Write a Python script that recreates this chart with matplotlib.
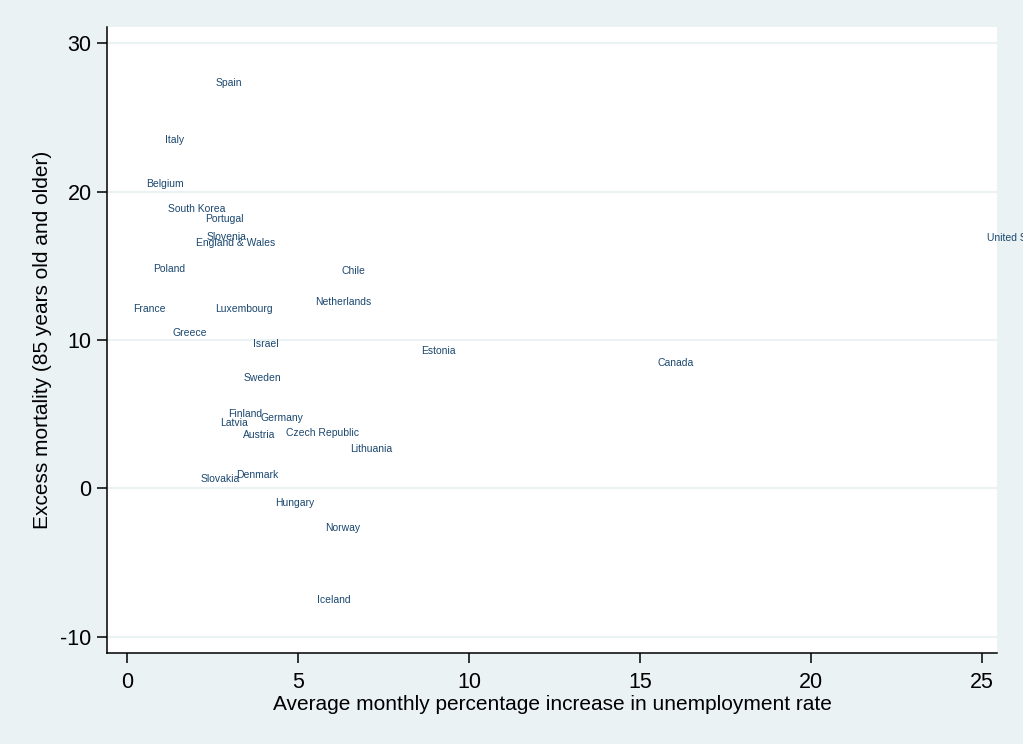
import matplotlib.pyplot as plt

plt.rcParams['axes.unicode_minus'] = False

# Country labels and their positions
countries = ['Spain', 'Italy', 'Belgium', 'South Korea', 'Portugal', 'Slovenia',
             'England & Wales', 'Poland', 'Chile', 'France', 'Luxembourg',
             'Netherlands', 'Greece', 'Israel', 'Estonia', 'Canada', 'Sweden',
             'Finland', 'Germany', 'Latvia', 'Austria', 'Czech Republic',
             'Lithuania', 'Slovakia', 'Denmark', 'Hungary', 'Norway', 'Iceland',
             'United States']
unemp = [2.98, 1.40, 1.11, 2.05, 2.84, 2.92, 3.19, 1.23, 6.63, 0.67, 3.42,
         6.32, 1.84, 4.06, 9.12, 16.05, 3.95, 3.45, 4.53, 3.14, 3.86, 5.73,
         7.13, 2.72, 3.80, 4.91, 6.32, 6.06, 26.05]
excess = [27.34, 23.50, 20.50, 18.79, 18.18, 16.97, 16.50, 14.75, 14.68, 12.12,
          12.12, 12.53, 10.44, 9.70, 9.25, 8.42, 7.47, 5.00, 4.78, 4.44, 3.57,
          3.77, 2.69, 0.67, 0.94, -1.01, -2.69, -7.54, 16.90]

xticks = [0, 5, 10, 15, 20, 25]
yticks = [-10, 0, 10, 20, 30]

bg = '#eaf2f3'
navy = '#1a476f'

fig = plt.figure(figsize=(10.23, 7.44), dpi=100, facecolor=bg)
ax = fig.add_axes([107 / 1023, 1 - 653 / 744, 890 / 1023, 626 / 744])
ax.set_facecolor('white')

for name, x, y in zip(countries, unemp, excess):
    ax.text(x, y, name, ha='center', va='center', fontsize=7.5,
            color=navy, family='Liberation Sans')

ax.set_xlim(-0.58, 25.44)
ax.set_ylim(-11.08, 31.08)
ax.set_xticks(xticks)
ax.set_yticks(yticks)
ax.yaxis.grid(True, color=bg, linewidth=1.5)
ax.set_axisbelow(True)

for side in ['top', 'right']:
    ax.spines[side].set_visible(False)
for side in ['left', 'bottom']:
    ax.spines[side].set_linewidth(1.1)
ax.tick_params(length=7, width=1.1, labelsize=15.5)
ax.tick_params(axis='x', pad=7)
ax.tick_params(axis='y', pad=4)
for lbl in ax.get_xticklabels() + ax.get_yticklabels():
    lbl.set_family('Liberation Sans')

ax.set_xlabel('Average monthly percentage increase in unemployment rate',
              fontsize=15, family='Liberation Sans', labelpad=1)
ax.set_ylabel('Excess mortality (85 years old and older)',
              fontsize=15, family='Liberation Sans', labelpad=6)

fig.savefig('out.png', dpi=100, facecolor=bg)
